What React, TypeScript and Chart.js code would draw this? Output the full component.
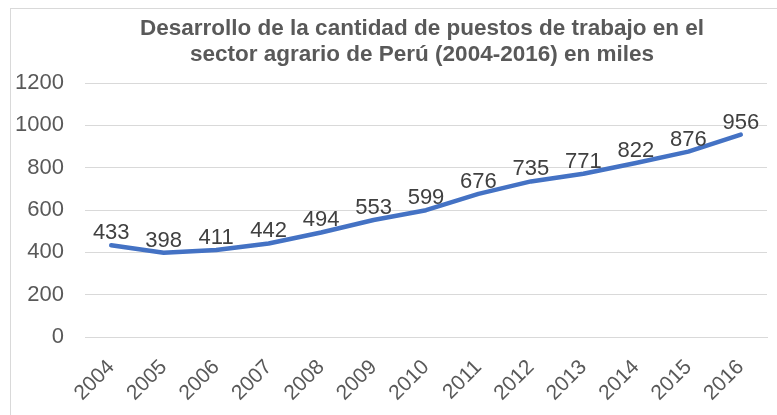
import React, { useEffect, useRef } from "react";
import { Chart, registerables } from "chart.js";

Chart.register(...registerables);

const years = ["2004", "2005", "2006", "2007", "2008", "2009", "2010", "2011", "2012", "2013", "2014", "2015", "2016"];
const jobs = [433, 398, 411, 442, 494, 553, 599, 676, 735, 771, 822, 876, 956];
const yMin = 0;
const yMax = 1200;
const yStep = 200;
const titleLines = [
  "Desarrollo de la cantidad de puestos de trabajo en el",
  "sector agrario de Perú (2004-2016) en miles",
];

const FONT = "'Liberation Sans', Arial, sans-serif";

const dataLabels = {
  id: "dataLabels",
  afterDatasetsDraw(chart: any) {
    const ctx = chart.ctx;
    const meta = chart.getDatasetMeta(0);
    const values = chart.data.datasets[0].data as number[];
    ctx.save();
    ctx.font = `22px ${FONT}`;
    ctx.fillStyle = "#404040";
    ctx.textAlign = "center";
    ctx.textBaseline = "alphabetic";
    meta.data.forEach((pt: any, i: number) => {
      ctx.fillText(String(values[i]), pt.x, pt.y - 6);
    });
    ctx.restore();
  },
};

const titlePlugin = {
  id: "twoLineTitle",
  afterDraw(chart: any) {
    const ctx = chart.ctx;
    ctx.save();
    ctx.font = `bold 22.5px ${FONT}`;
    ctx.fillStyle = "#595959";
    ctx.textAlign = "center";
    ctx.textBaseline = "alphabetic";
    titleLines.forEach((line, i) => {
      ctx.fillText(line, chart.width / 2, 26 + i * 26);
    });
    ctx.restore();
  },
};

export default function App() {
  const ref = useRef<HTMLCanvasElement | null>(null);

  useEffect(() => {
    if (!ref.current) return;
    const chart = new Chart(ref.current, {
      type: "line",
      data: {
        labels: years,
        datasets: [
          {
            data: jobs,
            borderColor: "#4472C4",
            borderWidth: 4.5,
            pointRadius: 0,
            pointHoverRadius: 0,
            tension: 0,
            borderCapStyle: "round",
            borderJoinStyle: "round",
            fill: false,
          },
        ],
      },
      options: {
        responsive: false,
        animation: false,
        devicePixelRatio: 1,
        layout: { padding: { left: 0, right: 66, top: 74, bottom: 0 } },
        plugins: {
          legend: { display: false },
          tooltip: { enabled: false },
          title: { display: false },
        },
        scales: {
          x: {
            offset: true,
            grid: { display: false, drawTicks: false },
            border: { display: true, color: "#d9d9d9", width: 1 },
            ticks: {
              color: "#595959",
              font: { family: FONT, size: 21 },
              maxRotation: 45,
              minRotation: 45,
              padding: 18,
              autoSkip: false,
            },
            afterFit(scale: any) {
              scale.height = 78;
            },
          },
          y: {
            min: yMin,
            max: yMax,
            grid: { color: "#d9d9d9", lineWidth: 1, drawTicks: false },
            border: { display: false },
            ticks: {
              stepSize: yStep,
              color: "#595959",
              font: { family: FONT, size: 22 },
              padding: 21,
              callback: (v: any) => String(v),
            },
            afterFit(scale: any) {
              scale.width = 74;
            },
          },
        },
      },
      plugins: [dataLabels, titlePlugin],
    });
    return () => chart.destroy();
  }, []);

  return (
    <div
      style={{
        position: "fixed",
        left: 0,
        top: 0,
        width: 777,
        height: 415,
        overflow: "hidden",
        background: "#ffffff",
      }}
    >
      <div
        style={{
          position: "absolute",
          left: 10,
          top: 8,
          width: 824,
          height: 408,
          border: "1px solid #d9d9d9",
          boxSizing: "border-box",
          background: "#ffffff",
        }}
      >
        <canvas ref={ref} width={822} height={406} style={{ display: "block", width: 822, height: 406 }} />
      </div>
    </div>
  );
}
